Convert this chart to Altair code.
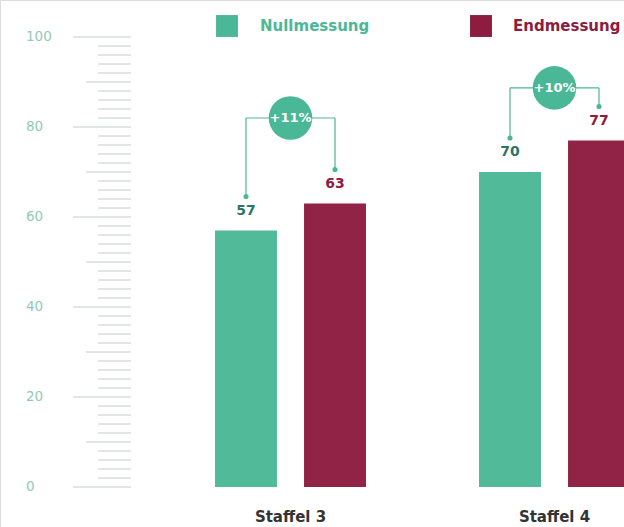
import altair as alt
import pandas as pd

# --- data -------------------------------------------------------------
staffeln = ["Staffel 3", "Staffel 4"]
messungen = ["Nullmessung", "Endmessung"]
nullmessung = [57, 70]
endmessung = [63, 77]
skala_werte = list(range(0, 101, 2))
skala_labels = list(range(0, 101, 20))

# --- styling / layout --------------------------------------------------
TEAL = "#4ab896"
CRIMSON = "#8c1c40"
TEAL_TEXT = "#2f7563"
TICK = "#c6cccb"
FONT = "DejaVu Sans"
badge_hoehe = [82.0, 88.7]          # height of the change badge, in scale units

bars = pd.DataFrame({
    "Staffel": staffeln * 2,
    "Messung": [messungen[0]] * len(staffeln) + [messungen[1]] * len(staffeln),
    "Wert": nullmessung + endmessung,
})
bars["Badge"] = badge_hoehe * 2

badges = pd.DataFrame({
    "Staffel": staffeln,
    "Badge": badge_hoehe,
    "Zuwachs": [f"+{round((e - n) / n * 100)}%" for n, e in zip(nullmessung, endmessung)],
})

skala = pd.DataFrame({"v": skala_werte})
labels = pd.DataFrame({"v": skala_labels})
legende = pd.DataFrame({"Messung": messungen})

x_scale = alt.Scale(domain=staffeln, range=[158.5, 686.5], paddingInner=0, paddingOuter=0)
xo_scale = alt.Scale(domain=messungen, paddingInner=0.304, paddingOuter=0.635)
y_scale = alt.Scale(domain=[0, 100], range=[487, 37])
c_scale = alt.Scale(domain=messungen, range=[TEAL, CRIMSON])
t_scale = alt.Scale(domain=messungen, range=[TEAL_TEXT, CRIMSON])

X = alt.X("Staffel:N", scale=x_scale, axis=None)
XO = alt.XOffset("Messung:N", scale=xo_scale)
Y = alt.Y("Wert:Q", scale=y_scale, axis=None)

base = alt.Chart(bars)

# bars
bar_layer = base.mark_bar(opacity=0.97).encode(
    x=X, xOffset=XO, y=Y,
    color=alt.Color("Messung:N", scale=c_scale, legend=None),
)

# value labels above the bars
value_labels = base.mark_text(font=FONT, fontSize=14, fontWeight=600, dy=-20, baseline="middle").encode(
    x=X, xOffset=XO, y=Y,
    text=alt.Text("Wert:Q"),
    color=alt.Color("Messung:N", scale=t_scale, legend=None),
)

# connectors: verticals from badge level down to just above the labels
connectors = base.mark_rule(color=TEAL, strokeWidth=1.2, y2Offset=-34).encode(
    x=X, xOffset=XO,
    y=alt.Y("Badge:Q", scale=y_scale, axis=None),
    y2="Wert:Q",
)
# horizontal part between both bar centres
bridge = base.mark_line(color=TEAL, strokeWidth=1.2).encode(
    x=X, xOffset=XO,
    y=alt.Y("Badge:Q", scale=y_scale, axis=None),
    detail="Staffel:N",
)
end_dots = base.mark_point(filled=True, color=TEAL, size=26, opacity=1, yOffset=-34).encode(
    x=X, xOffset=XO, y=Y,
)

# change badge
badge_circle = alt.Chart(badges).mark_point(filled=True, color=TEAL, size=1900, opacity=1, shape="circle").encode(
    x=X, y=alt.Y("Badge:Q", scale=y_scale, axis=None),
)
badge_text = alt.Chart(badges).mark_text(font=FONT, fontSize=13, fontWeight="bold", color="white",
                                         baseline="middle").encode(
    x=X, y=alt.Y("Badge:Q", scale=y_scale, axis=None),
    text="Zuwachs:N",
)

# category labels
cat_labels = alt.Chart(badges).mark_text(font=FONT, fontSize=15, fontWeight="bold", color="#333333",
                                         baseline="middle").encode(
    x=X, y=alt.value(517), text="Staffel:N",
)

# ruler-style scale on the left
sk = alt.Chart(skala)
SY = alt.Y("v:Q", scale=y_scale, axis=None)
major = sk.transform_filter("datum.v % 20 == 0").mark_rule(color=TICK, strokeWidth=1).encode(
    y=SY, x=alt.value(73), x2=alt.value(131))
medium = sk.transform_filter("datum.v % 10 == 0 && datum.v % 20 != 0").mark_rule(color=TICK, strokeWidth=1).encode(
    y=SY, x=alt.value(86), x2=alt.value(131))
minor = sk.transform_filter("datum.v % 10 != 0").mark_rule(color=TICK, strokeWidth=1).encode(
    y=SY, x=alt.value(98), x2=alt.value(131))
scale_text = alt.Chart(labels).mark_text(font=FONT, fontSize=13.5, color="#93c9ba", align="left",
                                         baseline="middle").encode(
    y=SY, x=alt.value(26), text="v:Q")

# legend row
lg = alt.Chart(legende)
legend_null = lg.transform_filter(f"datum.Messung == '{messungen[0]}'")
legend_end = lg.transform_filter(f"datum.Messung == '{messungen[1]}'")
sq_null = legend_null.mark_square(size=480, opacity=1, filled=True).encode(
    x=alt.value(227), y=alt.value(26), color=alt.Color("Messung:N", scale=c_scale, legend=None))
sq_end = legend_end.mark_square(size=480, opacity=1, filled=True).encode(
    x=alt.value(481), y=alt.value(26), color=alt.Color("Messung:N", scale=c_scale, legend=None))
tx_null = legend_null.mark_text(font=FONT, fontSize=15, fontWeight="bold", align="left", baseline="middle").encode(
    x=alt.value(260), y=alt.value(26), text="Messung:N", color=alt.Color("Messung:N", scale=c_scale, legend=None))
tx_end = legend_end.mark_text(font=FONT, fontSize=15, fontWeight="bold", align="left", baseline="middle").encode(
    x=alt.value(513), y=alt.value(26), text="Messung:N", color=alt.Color("Messung:N", scale=c_scale, legend=None))

chart = alt.layer(
    major, medium, minor, scale_text,
    bar_layer, connectors, bridge, end_dots, badge_circle, badge_text,
    value_labels, cat_labels,
    sq_null, sq_end, tx_null, tx_end,
).resolve_scale(color="independent").properties(
    width=624, height=527, padding=0,
    autosize=alt.AutoSizeParams(type="none"),
).configure_view(stroke=None).configure(background="white")

chart.save("out.html", embed_options={"renderer": "svg", "actions": False})
